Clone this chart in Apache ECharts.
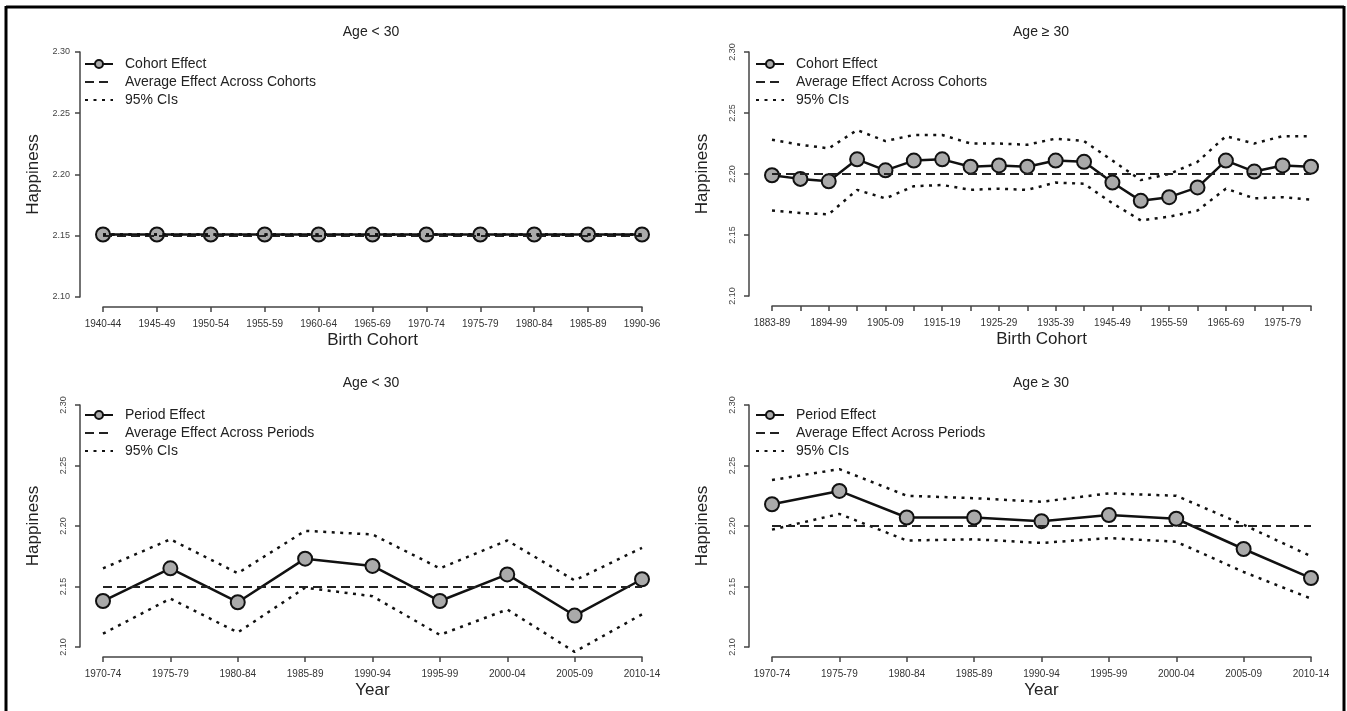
<!DOCTYPE html>
<html>
<head>
<meta charset="utf-8">
<script src="https://cdn.jsdelivr.net/npm/echarts@6/dist/echarts.min.js"></script>
<style>
  html, body { margin: 0; padding: 0; background: #fff; }
  #chart { width: 1347px; height: 711px; }
</style>
</head>
<body>
<div id="chart"></div>
<script>
// ---------------- DATA ----------------
const cohortYoungCats = ['1940-44','1945-49','1950-54','1955-59','1960-64','1965-69','1970-74','1975-79','1980-84','1985-89','1990-96'];
const cohortYoungEffect = [2.151,2.151,2.151,2.151,2.151,2.151,2.151,2.151,2.151,2.151,2.151];
const cohortYoungUpper  = [2.151,2.151,2.151,2.151,2.151,2.151,2.151,2.151,2.151,2.151,2.151];
const cohortYoungLower  = [2.151,2.151,2.151,2.151,2.151,2.151,2.151,2.151,2.151,2.151,2.151];
const cohortYoungAvg = 2.151;

const cohortOldCats = ['1883-89','1890-93','1894-99','1900-04','1905-09','1910-14','1915-19','1920-24','1925-29','1930-34',
                       '1935-39','1940-44','1945-49','1950-54','1955-59','1960-64','1965-69','1970-74','1975-79','1980-86'];
const cohortOldEffect = [2.199,2.196,2.194,2.212,2.203,2.211,2.212,2.206,2.207,2.206,2.211,2.210,2.193,2.178,2.181,2.189,2.211,2.202,2.207,2.206];
const cohortOldUpper  = [2.228,2.224,2.221,2.236,2.227,2.232,2.232,2.225,2.225,2.224,2.229,2.227,2.211,2.195,2.200,2.210,2.231,2.225,2.231,2.231];
const cohortOldLower  = [2.170,2.168,2.167,2.187,2.180,2.190,2.191,2.187,2.188,2.187,2.193,2.192,2.176,2.162,2.165,2.170,2.188,2.180,2.181,2.179];
const cohortOldAvg = 2.2016;

const periodCats = ['1970-74','1975-79','1980-84','1985-89','1990-94','1995-99','2000-04','2005-09','2010-14'];
const periodYoungEffect = [2.138,2.165,2.137,2.173,2.167,2.138,2.160,2.126,2.156];
const periodYoungUpper  = [2.165,2.189,2.161,2.196,2.193,2.165,2.188,2.155,2.182];
const periodYoungLower  = [2.111,2.140,2.112,2.149,2.142,2.110,2.131,2.096,2.127];
const periodYoungAvg = 2.1514;

const periodOldEffect = [2.218,2.229,2.207,2.207,2.204,2.209,2.206,2.181,2.157];
const periodOldUpper  = [2.238,2.247,2.225,2.223,2.220,2.227,2.225,2.201,2.175];
const periodOldLower  = [2.197,2.210,2.188,2.189,2.186,2.190,2.187,2.162,2.140];
const periodOldAvg = 2.2022;

const yMin = 2.10, yMax = 2.30, yStep = 0.05;

// ---------------- LAYOUT ----------------
const FONT = '"Liberation Sans", Arial, sans-serif';
const panels = [
  { title: 'Age < 30', tx: 371, ty: 32, left: 103, top: 52, width: 539, height: 245,
    cats: cohortYoungCats, eff: cohortYoungEffect, up: cohortYoungUpper, lo: cohortYoungLower, avg: cohortYoungAvg,
    effName: 'Cohort Effect', avgName: 'Average Effect Across Cohorts', xName: 'Birth Cohort',
    legLeft: 84, legTop: 57, rotY: 0, labelInterval: 0, ciOnTop: true },
  { title: 'Age \u2265 30', tx: 1041, ty: 32, left: 772, top: 52, width: 539, height: 244,
    cats: cohortOldCats, eff: cohortOldEffect, up: cohortOldUpper, lo: cohortOldLower, avg: cohortOldAvg,
    effName: 'Cohort Effect', avgName: 'Average Effect Across Cohorts', xName: 'Birth Cohort',
    legLeft: 755, legTop: 57, rotY: 90, labelInterval: 1, ciOnTop: false },
  { title: 'Age < 30', tx: 371, ty: 383, left: 103, top: 405, width: 539, height: 242,
    cats: periodCats, eff: periodYoungEffect, up: periodYoungUpper, lo: periodYoungLower, avg: periodYoungAvg,
    effName: 'Period Effect', avgName: 'Average Effect Across Periods', xName: 'Year',
    legLeft: 84, legTop: 408, rotY: 90, labelInterval: 0, ciOnTop: false },
  { title: 'Age \u2265 30', tx: 1041, ty: 383, left: 772, top: 405, width: 539, height: 242,
    cats: periodCats, eff: periodOldEffect, up: periodOldUpper, lo: periodOldLower, avg: periodOldAvg,
    effName: 'Period Effect', avgName: 'Average Effect Across Periods', xName: 'Year',
    legLeft: 755, legTop: 408, rotY: 90, labelInterval: 0, ciOnTop: false }
];

const option = {
  animation: false,
  backgroundColor: '#fff',
  title: [], grid: [], xAxis: [], yAxis: [], series: [], legend: [],
  graphic: [
    { type: 'line', shape: { x1: 6, y1: 7, x2: 1344, y2: 7 }, style: { stroke: '#000', lineWidth: 3 } },
    { type: 'line', shape: { x1: 6, y1: 6, x2: 6, y2: 711 }, style: { stroke: '#000', lineWidth: 3 } },
    { type: 'line', shape: { x1: 1344, y1: 6, x2: 1344, y2: 711 }, style: { stroke: '#000', lineWidth: 3 } }
  ]
};

const dotted = { color: '#111', width: 2.5, type: [3, 5.5], cap: 'butt' };
const dashed = { color: '#222', width: 1.8, type: [9, 5], cap: 'butt' };
const hiddenItem = { color: 'rgba(0,0,0,0)', borderWidth: 0 };

panels.forEach((p, i) => {
  option.title.push({
    text: p.title, left: p.tx, top: p.ty, textAlign: 'center', textVerticalAlign: 'middle', padding: 0,
    textStyle: { fontFamily: FONT, fontSize: 14, fontWeight: 'normal', color: '#222' }
  });
  option.grid.push({ left: p.left, top: p.top, width: p.width, height: p.height, containLabel: false });
  option.xAxis.push({
    type: 'category', gridIndex: i, data: p.cats, boundaryGap: false, offset: 10,
    name: p.xName, nameLocation: 'middle', nameGap: 25,
    nameTextStyle: { fontFamily: FONT, fontSize: 17, color: '#222' },
    axisLine: { lineStyle: { color: '#444', width: 1.5 } },
    axisTick: { show: true, interval: 0, length: 5, lineStyle: { color: '#444', width: 1.5 } },
    axisLabel: { interval: p.labelInterval, margin: 12, fontFamily: FONT, fontSize: 10, color: '#333' },
    splitLine: { show: false }
  });
  option.yAxis.push({
    type: 'value', gridIndex: i, min: yMin, max: yMax, interval: yStep, offset: 23,
    name: 'Happiness', nameLocation: 'middle', nameGap: 38,
    nameTextStyle: { fontFamily: FONT, fontSize: 17, color: '#222' },
    axisLine: { show: true, lineStyle: { color: '#444', width: 1.5 } },
    axisTick: { show: true, length: 5, lineStyle: { color: '#444', width: 1.5 } },
    axisLabel: { rotate: p.rotY, margin: p.rotY ? 12 : 10, fontFamily: FONT, fontSize: 9, color: '#444',
                 formatter: v => v.toFixed(2) },
    splitLine: { show: false }
  });
  const ciZ = p.ciOnTop ? 5 : 2;
  option.series.push({
    name: p.avgName, type: 'line', xAxisIndex: i, yAxisIndex: i, data: [], symbol: 'none',
    lineStyle: dashed, itemStyle: hiddenItem, z: 1,
    markLine: { silent: true, symbol: 'none', label: { show: false }, lineStyle: dashed,
                data: [{ yAxis: p.avg }] }
  });
  option.series.push({
    name: '95% CIs', type: 'line', xAxisIndex: i, yAxisIndex: i, data: p.up, symbol: 'none',
    lineStyle: dotted, itemStyle: hiddenItem, z: ciZ, clip: false
  });
  option.series.push({
    name: '95% CIs', type: 'line', xAxisIndex: i, yAxisIndex: i, data: p.lo, symbol: 'none',
    lineStyle: dotted, itemStyle: hiddenItem, z: ciZ, clip: false
  });
  option.series.push({
    name: p.effName, type: 'line', xAxisIndex: i, yAxisIndex: i, data: p.eff,
    symbol: 'circle', symbolSize: 14, showSymbol: true, clip: false, z: 4,
    lineStyle: { color: '#111', width: 2.5 },
    itemStyle: { color: '#aaaaaa', borderColor: '#111', borderWidth: 2 }
  });
  option.legend.push({
    left: p.legLeft, top: p.legTop, orient: 'vertical', selectedMode: false, padding: 0,
    itemWidth: 28, itemHeight: 10, itemGap: 4,
    textStyle: { fontFamily: FONT, fontSize: 14, color: '#222', lineHeight: 14, padding: [0, 0, 0, 7] },
    data: [p.effName, p.avgName, '95% CIs']
  });
});

const chart = echarts.init(document.getElementById('chart'), null, { renderer: 'canvas' });
chart.setOption(option);
</script>
</body>
</html>
